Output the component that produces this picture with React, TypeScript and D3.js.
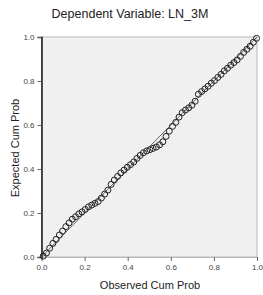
import React, { useEffect, useRef } from "react";
import * as d3 from "d3";

const chartTitle = "Dependent Variable: LN_3M";
const xLabel = "Observed Cum Prob";
const yLabel = "Expected Cum Prob";
const tickValues = [0, 0.2, 0.4, 0.6, 0.8, 1.0];

// observed cumulative probability of each residual
const observed = [
  0.008, 0.023, 0.038, 0.053, 0.068, 0.083, 0.098, 0.113, 0.128, 0.143,
  0.158, 0.173, 0.188, 0.203, 0.218, 0.233, 0.248, 0.263, 0.278, 0.293,
  0.308, 0.323, 0.338, 0.353, 0.368, 0.383, 0.398, 0.413, 0.428, 0.443,
  0.458, 0.473, 0.488, 0.503, 0.518, 0.533, 0.548, 0.563, 0.578, 0.593,
  0.608, 0.623, 0.638, 0.653, 0.668, 0.683, 0.698, 0.713, 0.728, 0.743,
  0.758, 0.773, 0.788, 0.803, 0.818, 0.833, 0.848, 0.863, 0.878, 0.893,
  0.908, 0.923, 0.938, 0.953, 0.968, 0.983, 0.998,
];

// expected normal cumulative probability
const expected = [
  0.004, 0.018, 0.04, 0.062, 0.08, 0.1, 0.118, 0.138, 0.155, 0.172,
  0.183, 0.196, 0.205, 0.216, 0.228, 0.236, 0.244, 0.252, 0.268, 0.286,
  0.304, 0.33, 0.35, 0.366, 0.382, 0.395, 0.408, 0.42, 0.432, 0.448,
  0.462, 0.474, 0.482, 0.488, 0.494, 0.5, 0.51, 0.524, 0.548, 0.572,
  0.594, 0.612, 0.636, 0.656, 0.668, 0.678, 0.69, 0.708, 0.74, 0.752,
  0.764, 0.776, 0.79, 0.802, 0.816, 0.83, 0.846, 0.858, 0.872, 0.884,
  0.896, 0.912, 0.93, 0.944, 0.958, 0.976, 0.994,
];

const W = 263;
const H = 295;

export default function App() {
  const ref = useRef<SVGSVGElement>(null);

  useEffect(() => {
    const svg = d3.select(ref.current);
    svg.selectAll("*").remove();

    const left = 41.5, right = 257, top = 37, bottom = 257;
    const x = d3.scaleLinear().domain([0, 1]).range([left, right]);
    const y = d3.scaleLinear().domain([0, 1]).range([bottom, top]);

    svg.append("rect")
      .attr("width", W).attr("height", H).attr("fill", "#fff");

    // plot background
    svg.append("rect")
      .attr("x", left).attr("y", top)
      .attr("width", right - left).attr("height", bottom - top)
      .attr("fill", "#f0f0f0")
      .attr("stroke", "#b8b8b8")
      .attr("stroke-width", 1);

    const font = "Arial, 'Liberation Sans', sans-serif";

    // x axis
    const gx = svg.append("g")
      .attr("transform", "translate(0," + bottom + ")")
      .call(d3.axisBottom(x).tickValues(tickValues).tickFormat(d3.format(".1f")).tickSize(4).tickPadding(3));
    gx.select(".domain").attr("stroke", "#bbb");
    gx.selectAll("line").attr("stroke", "#666");
    gx.selectAll("text").attr("font-family", font).attr("font-size", 8).attr("fill", "#444");

    // y axis
    const gy = svg.append("g")
      .attr("transform", "translate(" + left + ",0)")
      .call(d3.axisLeft(y).tickValues(tickValues).tickFormat(d3.format(".1f")).tickSize(4).tickPadding(3));
    gy.select(".domain").attr("stroke", "#222").attr("stroke-width", 1.6);
    gy.selectAll("line").attr("stroke", "#666");
    gy.selectAll("text").attr("font-family", font).attr("font-size", 8).attr("fill", "#444");

    // reference diagonal
    svg.append("line")
      .attr("x1", x(0)).attr("y1", y(0))
      .attr("x2", x(1)).attr("y2", y(1))
      .attr("stroke", "#555")
      .attr("stroke-width", 0.9);

    // points
    svg.append("g")
      .selectAll("circle")
      .data(observed)
      .enter()
      .append("circle")
      .attr("cx", d => x(d))
      .attr("cy", (d, i) => y(expected[i]))
      .attr("r", 3)
      .attr("fill", "none")
      .attr("stroke", "#222")
      .attr("stroke-width", 1);

    svg.append("text")
      .text(chartTitle)
      .attr("x", 130).attr("y", 18)
      .attr("text-anchor", "middle")
      .attr("font-family", font)
      .attr("font-size", 12.5)
      .attr("fill", "#222");

    svg.append("text")
      .text(xLabel)
      .attr("x", 150).attr("y", 289)
      .attr("text-anchor", "middle")
      .attr("font-family", font)
      .attr("font-size", 11)
      .attr("fill", "#222");

    svg.append("text")
      .text(yLabel)
      .attr("transform", "translate(19,148) rotate(-90)")
      .attr("text-anchor", "middle")
      .attr("font-family", font)
      .attr("font-size", 11)
      .attr("fill", "#222");
  }, []);

  return (
    <svg ref={ref} width={W} height={H} viewBox={"0 0 " + W + " " + H}
      style={{ position: "absolute", left: 0, top: 0, display: "block" }} />
  );
}
